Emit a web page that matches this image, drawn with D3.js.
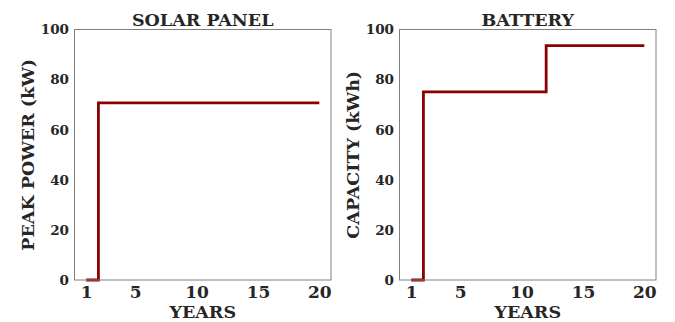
<!DOCTYPE html>
<html>
<head>
<meta charset="utf-8">
<script src="https://cdn.jsdelivr.net/npm/d3@7/dist/d3.min.js"></script>
<style>
  body { margin: 0; background: #fff; }
  svg text { font-family: "DejaVu Serif", serif; font-weight: bold; fill: #262626; }
</style>
</head>
<body>
<script>
// data
const years = d3.range(1, 21);
const solarPower = [0, 70.7, 70.7, 70.7, 70.7, 70.7, 70.7, 70.7, 70.7, 70.7,
                    70.7, 70.7, 70.7, 70.7, 70.7, 70.7, 70.7, 70.7, 70.7, 70.7];
const batteryCapacity = [0, 75.1, 75.1, 75.1, 75.1, 75.1, 75.1, 75.1, 75.1, 75.1,
                         75.1, 93.6, 93.6, 93.6, 93.6, 93.6, 93.6, 93.6, 93.6, 93.6];
const xTicks = [1, 5, 10, 15, 20];
const yTicks = [0, 20, 40, 60, 80, 100];

const panels = [
  { title: "SOLAR PANEL", ylabel: "PEAK POWER (kW)", values: solarPower, left: 74.5, right: 331 },
  { title: "BATTERY", ylabel: "CAPACITY (kWh)", values: batteryCapacity, left: 399.5, right: 656 }
];

const svg = d3.select("body").append("svg")
  .attr("width", 675)
  .attr("height", 322);

const plotTop = 29.5, plotBottom = 280;

panels.forEach(p => {
  // matplotlib style 5% margin on x
  let x = d3.scaleLinear().domain([0.05, 20.95]).range([p.left, p.right]);
  let y = d3.scaleLinear().domain([0, 100]).range([plotBottom, plotTop]);

  let g = svg.append("g");

  let line = d3.line()
    .x((d, i) => x(years[i]))
    .y(d => y(d))
    .curve(d3.curveStepAfter);

  g.append("path")
    .datum(p.values)
    .attr("d", line)
    .attr("fill", "none")
    .attr("stroke", "#8b0000")
    .attr("stroke-width", 2.8);

  // frame
  g.append("rect")
    .attr("x", p.left).attr("y", plotTop)
    .attr("width", p.right - p.left).attr("height", plotBottom - plotTop)
    .attr("fill", "none")
    .attr("stroke", "#808080")
    .attr("stroke-width", 1);

  let xAxis = g.append("g")
    .attr("transform", `translate(0,${plotBottom})`)
    .call(d3.axisBottom(x).tickValues(xTicks).tickSize(0).tickPadding(6));
  let yAxis = g.append("g")
    .attr("transform", `translate(${p.left},0)`)
    .call(d3.axisLeft(y).tickValues(yTicks).tickSize(0).tickPadding(5.5));
  xAxis.selectAll("text").style("font-size", "17px");
  yAxis.selectAll("text").style("font-size", "13.5px");
  [xAxis, yAxis].forEach(a => {
    a.select(".domain").remove();
    a.selectAll("text")
      .style("font-family", "DejaVu Serif")
      .style("font-weight", "bold")
      .attr("fill", "#262626");
  });

  g.append("text")
    .attr("x", (p.left + p.right) / 2)
    .attr("y", 25.5)
    .attr("text-anchor", "middle")
    .style("font-size", "17.5px")
    .text(p.title);

  g.append("text")
    .attr("x", (p.left + p.right) / 2)
    .attr("y", 317.5)
    .attr("text-anchor", "middle")
    .style("font-size", "17.5px")
    .text("YEARS");

  g.append("text")
    .attr("transform", `translate(${p.left - 40.5},${(plotTop + plotBottom) / 2}) rotate(-90)`)
    .attr("text-anchor", "middle")
    .style("font-size", "17.5px")
    .text(p.ylabel);
});
</script>
</body>
</html>
